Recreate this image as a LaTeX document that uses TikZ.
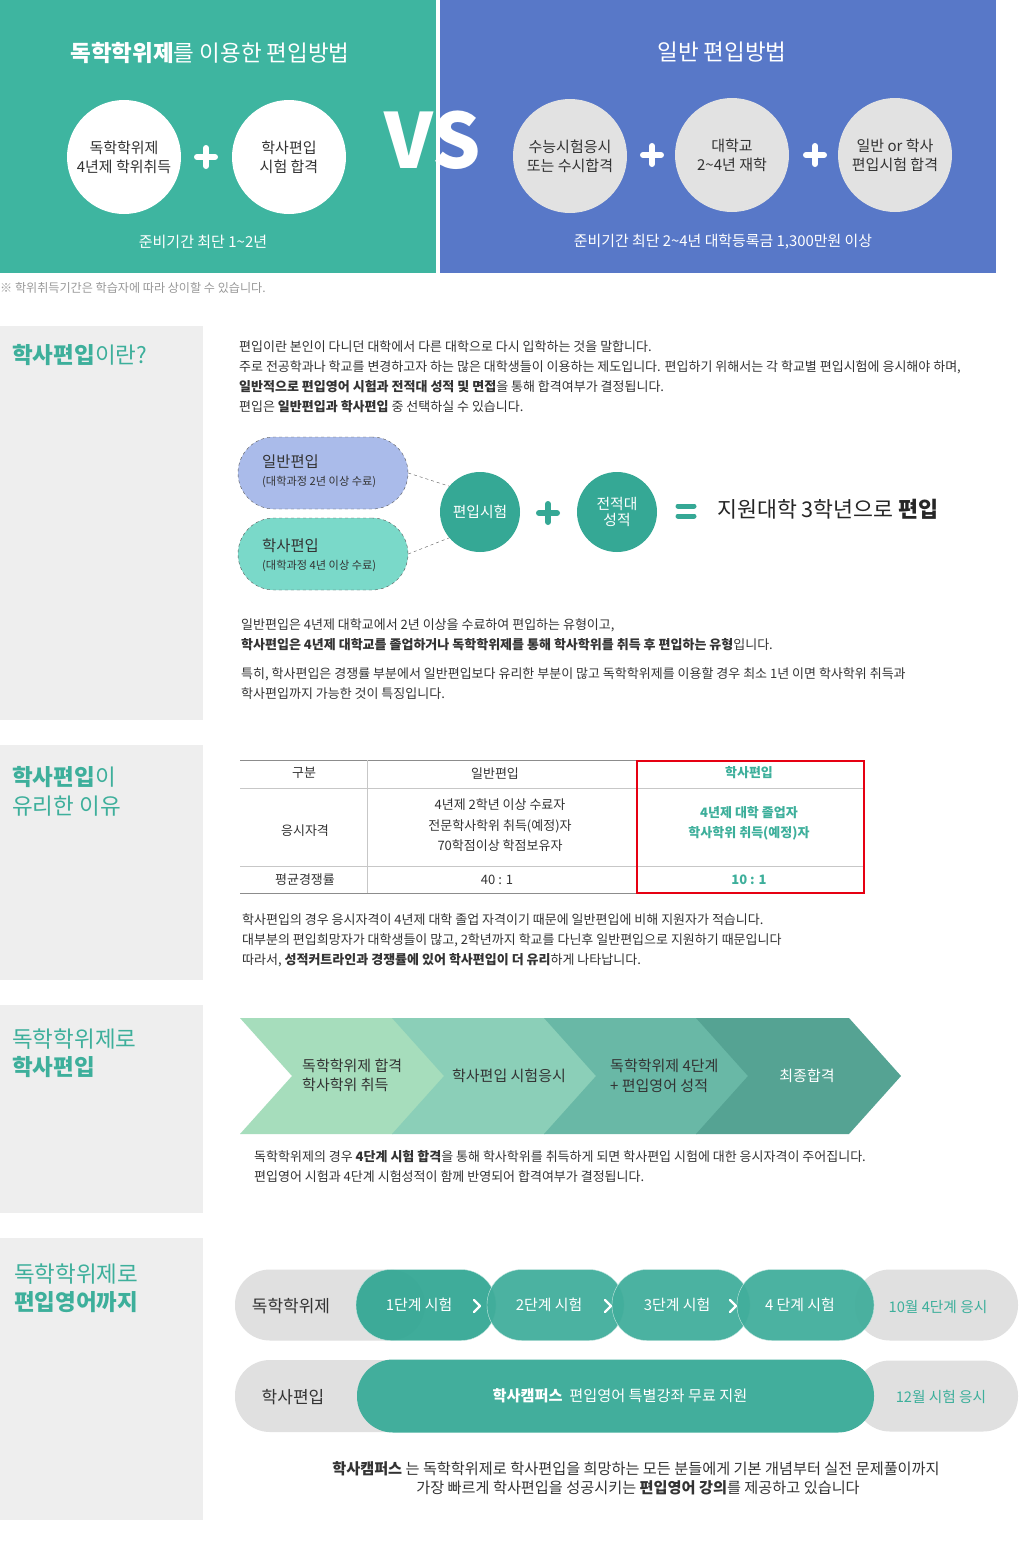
\documentclass[tikz,border=0pt]{standalone}
\usepackage{fontspec}
\setmainfont{Noto Sans CJK KR}
\definecolor{topteal}{HTML}{3EB5A0}
\definecolor{topblue}{HTML}{5878C8}
\definecolor{ccgray}{HTML}{E2E2E2}
\definecolor{txt}{HTML}{333333}
\definecolor{panelgray}{HTML}{EEEEEE}
\definecolor{headteal}{HTML}{3DAF9B}
\definecolor{deepteal}{HTML}{35A895}
\definecolor{pillteal}{HTML}{42AE9C}
\definecolor{lavfill}{HTML}{AABBEA}
\definecolor{mintfill}{HTML}{7AD9C9}
\definecolor{segA}{HTML}{A6DDBC}
\definecolor{segB}{HTML}{8BCFB8}
\definecolor{segC}{HTML}{69B8A6}
\definecolor{segD}{HTML}{55A393}
\definecolor{pillgray}{HTML}{E0E0E0}
\definecolor{notegray}{HTML}{999999}
\definecolor{redbox}{HTML}{E60012}
\newcommand{\fsz}[1]{\fontsize{#1}{#1}\selectfont}

\begin{document}
\begin{tikzpicture}[x=1pt,y=-1pt,
		every node/.style={inner sep=0pt},
		line/.style={anchor=west,text=txt,font=\fsz{13}},
		mid/.style={text=txt,font=\fsz{13}},
		sechead/.style={anchor=west,text=headteal,font=\fsz{22.5}},
		bigdot/.style={circle,minimum size=114pt,font=\fsz{15},align=center},
		tealdot/.style={circle,minimum size=80pt,fill=deepteal,text=white,font=\fsz{14.8},align=center},
		plusline/.style={line width=6pt,line cap=round},
		pillbox/.style={rectangle,rounded corners=36pt,minimum width=170pt,minimum height=72pt,draw=black!65,dashed},
		pill/.style={rectangle,rounded corners=35pt,minimum height=71pt},
		steppill/.style={pill,fill=pillteal,draw=white!70!pillteal,fill opacity=0.95},
		arrowmark/.style={white,line width=2.2pt,line cap=round,line join=round}]
			\useasboundingbox (0,0) rectangle (1024,1550);
			\fill[white] (0,0) rectangle (1024,1550);
			
			% top comparison
			\fill[topteal] (0,0) rectangle (436,273);
			\fill[topblue] (440,0) rectangle (996,273);
			\node[text=white,font=\fsz{22.5}] (ltitle) at (210,53) {\textbf{독학학위제}를 이용한 편입방법};
			\node[text=white,font=\fsz{22.5}] (rtitle) at (722,52) {일반 편입방법};
			\node[bigdot,fill=white,text=txt] (la) at (124,157) {독학학위제\\[4pt]4년제 학위취득};
			\node[bigdot,fill=white,text=txt] (lb) at (289,157) {학사편입\\[4pt]시험 합격};
			\coordinate (lplus) at (206,157);
			\draw[plusline,white] (lplus) +(-9,0) -- +(9,0) +(0,-9) -- +(0,9);
			\node[text=white,font=\fsz{15}] (lnote) at (203,242) {준비기간 최단 1\textasciitilde2년};
			\node[bigdot,fill=ccgray,text=txt] (ra) at (570,156) {수능시험응시\\[4pt]또는 수시합격};
			\node[bigdot,fill=ccgray,text=txt] (rb) at (732,155) {대학교\\[4pt]2\textasciitilde4년 재학};
			\node[bigdot,fill=ccgray,text=txt] (rc) at (895,155) {일반 or 학사\\[4pt]편입시험 합격};
			\coordinate (rplusa) at (652,155);
			\coordinate (rplusb) at (815,155);
			\draw[plusline,white] (rplusa) +(-9,0) -- +(9,0) +(0,-9) -- +(0,9);
			\draw[plusline,white] (rplusb) +(-9,0) -- +(9,0) +(0,-9) -- +(0,9);
			\node[text=white,font=\fsz{14.9}] (rnote) at (723,242) {준비기간 최단 2\textasciitilde4년 대학등록금 1,300만원 이상};
			\node[text=white,font=\fsz{76}\bfseries] (vs) at (433,140) {VS};
			\node[anchor=west,text=notegray,font=\fsz{12.1}] (foot) at (0,288) {※ 학위취득기간은 학습자에 따라 상이할 수 있습니다.};
			
			% section 1
			\fill[panelgray] (0,326) rectangle (203,720);
			\node[sechead] (h1) at (12,355) {\textbf{학사편입}이란?};
			\node[line] (p1a) at (239,347) {편입이란 본인이 다니던 대학에서 다른 대학으로 다시 입학하는 것을 말합니다.};
			\node[line] (p1b) at (239,367) {주로 전공학과나 학교를 변경하고자 하는 많은 대학생들이 이용하는 제도입니다. 편입하기 위해서는 각 학교별 편입시험에 응시해야 하며,};
			\node[line] (p1c) at (239,387) {\textbf{일반적으로 편입영어 시험과 전적대 성적 및 면접}을 통해 합격여부가 결정됩니다.};
			\node[line] (p1d) at (239,407) {편입은 \textbf{일반편입과 학사편입} 중 선택하실 수 있습니다.};
			
			\node[pillbox,fill=lavfill] (gen) at (323,473) {};
			\node[pillbox,fill=mintfill] (bach) at (323,554) {};
			\node[anchor=west,text=txt,font=\fsz{15.4}] (gena) at (262,462) {일반편입};
			\node[anchor=west,text=txt,font=\fsz{11.2}] (genb) at (262,482) {(대학과정 2년 이상 수료)};
			\node[anchor=west,text=txt,font=\fsz{15.4}] (bacha) at (262,546) {학사편입};
			\node[anchor=west,text=txt,font=\fsz{11.2}] (bachb) at (262,566) {(대학과정 4년 이상 수료)};
			\node[tealdot] (exam) at (480,512) {편입시험};
			\node[tealdot] (prev) at (617,512) {전적대\\[2pt]성적};
			\draw[dashed,black!65] (gen.east) -- (exam.140);
			\draw[dashed,black!65] (bach.east) -- (exam.220);
			\coordinate (mplus) at (548,513);
			\draw[plusline,deepteal] (mplus) +(-9,0) -- +(9,0) +(0,-9) -- +(0,9);
			\coordinate (eq) at (686,511);
			\draw[line width=5pt,line cap=round,deepteal] (eq) +(-8,-5) -- +(8,-5) +(-8,5) -- +(8,5);
			\node[anchor=west,text=black!85,font=\fsz{21.7}] (res) at (717,509) {지원대학 3학년으로 \textbf{편입}};
			
			\node[line] (p2a) at (241,625) {일반편입은 4년제 대학교에서 2년 이상을 수료하여 편입하는 유형이고,};
			\node[line] (p2b) at (241,645) {\textbf{학사편입은 4년제 대학교를 졸업하거나 독학학위제를 통해 학사학위를 취득 후 편입하는 유형}입니다.};
			\node[line] (p2c) at (241,674) {특히, 학사편입은 경쟁률 부분에서 일반편입보다 유리한 부분이 많고 독학학위제를 이용할 경우 최소 1년 이면 학사학위 취득과};
			\node[line] (p2d) at (241,694) {학사편입까지 가능한 것이 특징입니다.};
			
			% section 2
			\fill[panelgray] (0,745) rectangle (203,980);
			\node[sechead] (h2a) at (12,777) {\textbf{학사편입}이};
			\node[sechead] (h2b) at (12,806) {유리한 이유};
			
			\draw[black!45] (240,760) -- (864,760);
			\draw[black!22] (240,788) -- (864,788);
			\draw[black!22] (240,866) -- (864,866);
			\draw[black!22] (367,760) -- (367,893);
			\draw[black!22] (637,760) -- (637,893);
			\draw[black!45] (240,893) -- (864,893);
			\node[mid] (c11) at (304,773) {구분};
			\node[mid] (c12) at (495,774) {일반편입};
			\node[mid,text=headteal] (c13) at (749,773) {\textbf{학사편입}};
			\node[mid] (c21) at (305,831) {응시자격};
			\node[mid] (c22a) at (500,805) {4년제 2학년 이상 수료자};
			\node[mid] (c22b) at (500,826) {전문학사학위 취득(예정)자};
			\node[mid] (c22c) at (500,846) {70학점이상 학점보유자};
			\node[mid,text=headteal] (c23a) at (749,813) {\textbf{4년제 대학 졸업자}};
			\node[mid,text=headteal] (c23b) at (749,833) {\textbf{학사학위 취득(예정)자}};
			\node[mid] (c31) at (305,880) {평균경쟁률};
			\node[mid] (c32) at (497,880) {40 : 1};
			\node[mid,text=headteal] (c33) at (749,880) {\textbf{10 : 1}};
			\draw[redbox,line width=2pt] (637,761) rectangle (864,893);
			
			\node[line] (p3a) at (242,920) {학사편입의 경우 응시자격이 4년제 대학 졸업 자격이기 때문에 일반편입에 비해 지원자가 적습니다.};
			\node[line] (p3b) at (242,940) {대부분의 편입희망자가 대학생들이 많고, 2학년까지 학교를 다닌후 일반편입으로 지원하기 때문입니다};
			\node[line] (p3c) at (242,960) {따라서, \textbf{성적커트라인과 경쟁률에 있어 학사편입이 더 유리}하게 나타납니다.};
			
			% section 3
			\fill[panelgray] (0,1005) rectangle (203,1213);
			\node[sechead] (h3a) at (12,1039) {독학학위제로};
			\node[sechead] (h3b) at (12,1067) {\textbf{학사편입}};
			\foreach \i/\c in {0/segA,1/segB,2/segC,3/segD}
			\fill[\c] ({240+152*\i},1018) -- ++(153,0) -- ++(52,58) -- ++(-52,58) -- ++(-153,0) -- ++(52,-58) -- cycle;
			\node[anchor=west,text=txt,font=\fsz{15}] (s1a) at (302,1066) {독학학위제 합격};
			\node[anchor=west,text=txt,font=\fsz{15}] (s1b) at (302,1085) {학사학위 취득};
			\node[text=txt,font=\fsz{15}] (s2) at (509,1076) {학사편입 시험응시};
			\node[anchor=west,text=txt,font=\fsz{15}] (s3a) at (610,1066) {독학학위제 4단계};
			\node[anchor=west,text=txt,font=\fsz{15}] (s3b) at (610,1086) {+ 편입영어 성적};
			\node[text=white,font=\fsz{15}] (s4) at (807,1076) {최종합격};
			\node[line] (p4a) at (254,1157) {독학학위제의 경우 \textbf{4단계 시험 합격}을 통해 학사학위를 취득하게 되면 학사편입 시험에 대한 응시자격이 주어집니다.};
			\node[line] (p4b) at (254,1177) {편입영어 시험과 4단계 시험성적이 함께 반영되어 합격여부가 결정됩니다.};
			
			% section 4
			\fill[panelgray] (0,1238) rectangle (203,1520);
			\node[sechead] (h4a) at (14,1274) {독학학위제로};
			\node[sechead] (h4b) at (14,1302) {\textbf{편입영어까지}};
			
			\node[pill,fill=pillgray,minimum width=190pt] (dokpill) at (330,1305) {};
			\node[pill,fill=pillgray,minimum width=163pt] (octpill) at (936.5,1305) {};
			\node[steppill,fill=deepteal,minimum width=140pt] (st1) at (426,1305) {};
			\node[steppill,minimum width=137pt] (st2) at (555.5,1305) {};
			\node[steppill,minimum width=138pt] (st3) at (681,1305) {};
			\node[steppill,minimum width=137pt] (st4) at (805.5,1305) {};
			\node[text=txt,font=\fsz{17}] (dok) at (291,1306) {독학학위제};
			\node[text=white,font=\fsz{14.9}] (st1t) at (419,1305) {1단계 시험};
			\node[text=white,font=\fsz{14.9}] (st2t) at (549,1305) {2단계 시험};
			\node[text=white,font=\fsz{14.9}] (st3t) at (677,1305) {3단계 시험};
			\node[text=white,font=\fsz{14.9}] (st4t) at (800,1305) {4 단계 시험};
			\node[text=headteal,font=\fsz{14.7}] (oct) at (938,1307) {10월 4단계 응시};
			\coordinate (g1) at (477,1306);
			\coordinate (g2) at (608,1306);
			\coordinate (g3) at (733,1306);
			\foreach \g in {g1,g2,g3}
			\draw[arrowmark] (\g) +(-3,-6) -- +(3,0) -- +(-3,6);
			
			\node[pill,fill=pillgray,minimum width=190pt,minimum height=72pt] (hakpill) at (330,1396) {};
			\node[pill,fill=pillgray,minimum width=163pt] (decpill) at (936.5,1396) {};
			\node[pill,fill=pillteal,minimum width=517pt,minimum height=73pt,rounded corners=36pt] (campus) at (615.5,1396) {};
			\node[text=txt,font=\fsz{17}] (hak) at (293,1397) {학사편입};
			\node[text=white,font=\fsz{15.2}] (campust) at (620,1396) {\textbf{학사캠퍼스}\ \ 편입영어 특별강좌 무료 지원};
			\node[text=headteal,font=\fsz{14.7}] (dec) at (941,1397) {12월 시험 응시};
			
			\node[text=txt,font=\fsz{15.2}] (endA) at (636,1469) {\textbf{학사캠퍼스} 는 독학학위제로 학사편입을 희망하는 모든 분들에게 기본 개념부터 실전 문제풀이까지};
			\node[text=txt,font=\fsz{15.2}] (endB) at (638,1488) {가장 빠르게 학사편입을 성공시키는 \textbf{편입영어 강의}를 제공하고 있습니다};
		\end{tikzpicture}
\end{document}
